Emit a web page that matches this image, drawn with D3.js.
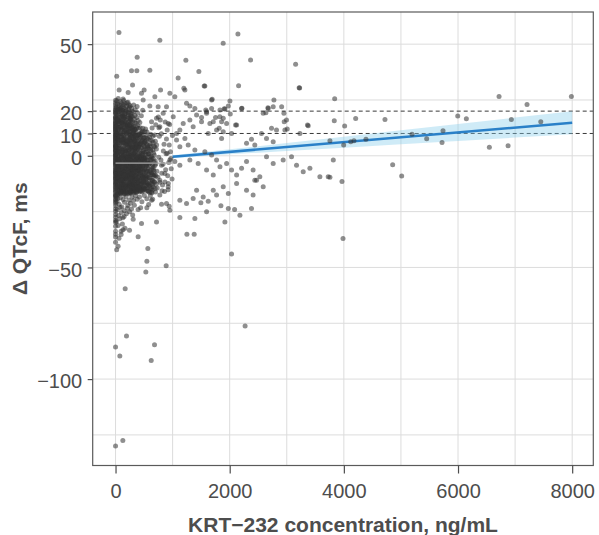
<!DOCTYPE html>
<html>
<head>
<meta charset="utf-8">
<script src="https://cdn.jsdelivr.net/npm/d3@7"></script>
<style>
  body { margin: 0; background: #fff; }
  svg { display: block; }
</style>
</head>
<body>
<svg id="chart" width="599" height="535"></svg>
<script>
// ---- axis setup -------------------------------------------------------
const xTicks = [0, 2000, 4000, 6000, 8000];
const xGrid = [0, 1000, 2000, 3000, 4000, 5000, 6000, 7000, 8000];
const yTicks = [-100, -50, 0, 10, 20, 50];
const yGrid = [-125, -100, -75, -50, -25, 0, 25, 50];
const refLevels = [10, 20];            // ms thresholds (dashed)

// ---- linear fit and its confidence band -------------------------------
const fitX = [1000, 8000];
const fitY = [-0.4, 14.8];
const ciX  = [1000, 2000, 3000, 4000, 5000, 6000, 7000, 8000];
const ciLo = [-1.05, 0.64, 2.17, 3.65, 5.19, 6.66, 8.15, 9.65];
const ciHi = [0.25, 2.90, 5.71, 8.57, 11.39, 14.26, 17.11, 19.95];

// mean change at low exposure (0 to 1000 ng/mL)
const lowMeanX = [0, 1000];
const lowMeanY = [-3.3, -3.3];

// ---- observations: ΔQTcF (ms) ----------------------------------------
// pre-dose samples, concentration 0 ng/mL
const predoseDQ = [
  -2.1, 4.6, -9.8, 12.3, 0.7, -14.2, 7.9, 17.6, -5.4, 2.8, -11.7, 9.1, 20.4, -17.3, -0.9,
  14.8, -7.6, 5.5, -3.8, 11.2, -15.9, 1.9, 18.9, -12.6, 6.7, -1.6, 15.7, -8.9, 3.4, -19.2,
  10.4, -4.7, 13.5, -13.1, 8.3, 21.8, -6.2, 0.1, 16.4, -10.5, 4.1, -16.4, 12.9, -2.9, 7.2,
  -18.1, 19.7, -7.1, 2.2, 9.8, -11.1, 14.1, -4.1, 6.1, -20.6, 17.1, -9.2, 1.3, 11.7, -14.8,
  5.1, -0.3, 22.9, -6.9, 8.8, -12.2, 3.9, 15.2, -3.3, 10.9, -17.8, 13.2, -8.1, 0.4, 19.1,
  -15.3, 6.4, -5.9, 16.9, -10.1, 2.5, 12.1, -1.2, 9.4, -13.7, 4.4, 20.9, -7.9, 7.6, -19.8,
  14.5, -2.5, -22.4, -24.8, -26.3, -28.9, -31.6, -33.8, -36.4, -38.7, -21.3, -23.7, -27.5,
  23.8, 24.9, -29.8, -35.1
];

// [concentration ng/mL, ΔQTcF ms], cycle 1, below 700 ng/mL
const obsLowC1 = [
  [18,-3.4],[42,6.8],[27,-12.1],[55,14.3],[33,1.2],[21,-8.7],[48,19.5],[37,-15.6],[25,10.1],[58,-5.9],
  [16,16.8],[44,-1.4],[30,8.2],[52,-10.8],[23,3.6],[39,-16.9],[57,12.0],[19,-6.3],[46,20.7],[34,-13.4],
  [28,5.0],[53,-0.2],[41,17.4],[15,-11.5],[49,9.3],[36,-4.5],[24,13.6],[59,-14.7],[31,2.4],[45,-7.8],
  [20,18.3],[54,-2.6],[38,11.1],[26,-9.9],[50,7.4],[43,-17.2],[17,0.9],[56,15.5],[32,-8.0],[47,4.3],
  [64,-1.8],[97,9.7],[112,-13.2],[78,15.2],[88,-6.6],[70,4.9],[105,-16.3],[118,12.4],[83,-9.4],[66,19.9],
  [101,0.3],[93,-11.9],[75,7.1],[115,17.8],[61,-4.2],[108,-7.4],[86,13.0],[72,-15.1],[99,3.3],[117,-2.9],
  [80,21.2],[63,10.6],[95,-12.7],[110,6.0],[77,-0.7],[90,16.1],[68,-8.6],[103,11.8],[84,-17.0],[119,1.6],
  [73,-5.0],[96,18.6],[62,-10.3],[107,8.5],[81,-3.1],[114,14.7],[91,-14.5],[69,2.0],[100,-9.0],[76,12.9],
  [111,-6.1],[87,5.6],[65,-13.9],[98,20.1],[116,-11.0],[79,9.0],[94,-1.0],[71,15.9],[104,-15.8],[85,-4.8],
  [113,3.9],[67,-7.0],
  [124,-2.3],[158,8.4],[187,-12.6],[141,16.7],[172,-5.5],[133,3.1],[196,13.2],[150,-15.9],[165,0.8],[128,-9.3],
  [182,19.0],[145,-7.1],[199,-0.9],[137,11.6],[170,-13.8],[155,5.9],[122,14.9],[190,-4.0],[162,-10.7],[131,7.7],
  [178,2.2],[147,-16.6],[193,9.9],[126,-6.4],[168,17.3],[139,-11.4],[185,-1.7],[153,12.8],[121,-14.2],[175,6.5],
  [143,-3.6],[197,-8.2],[160,15.0],[135,0.0],[181,-15.2],[149,4.4],[127,18.1],[166,-6.9],[192,10.8],[138,-12.0],
  [156,-2.0],[174,13.9],[123,-4.9],[188,-10.0],[144,9.1],[163,-17.0],[134,20.3],[179,-7.5],[152,1.5],[195,5.2],
  [130,-13.0],[171,-3.0],[146,14.4],[184,-16.0],[159,7.0],[125,-8.0],[191,16.2],[140,-1.1],[167,-9.6],[154,11.0],
  [198,-13.5],[132,6.2],[177,-0.4],[148,-14.9],[186,2.9],[129,12.2],[164,-5.2],[142,-10.2],[194,-6.0],[157,17.9],
  [204,-3.7],[238,7.3],[266,-11.8],[219,14.0],[251,-6.8],[229,2.6],[275,-15.4],[212,10.4],[244,-0.6],[259,16.6],
  [207,-9.1],[271,4.0],[233,-13.3],[248,12.1],[216,-2.5],[262,-7.9],[226,18.4],[279,0.5],[241,-16.2],[209,6.9],
  [255,-4.3],[236,9.6],[268,-12.9],[222,-0.1],[247,15.6],[214,-10.6],[273,11.3],[231,-5.8],[257,3.5],[202,13.8],
  [264,-14.0],[239,-8.4],[218,1.0],[277,-2.0],[245,8.0],[227,-15.0],[252,17.0],[210,-6.0],[269,6.3],[234,-11.0],
  [260,-1.3],[221,12.6],[276,-9.7],[243,4.7],[205,-13.6],[254,-3.2],[230,15.3],[265,9.2],[213,-16.8],[249,0.2],
  [272,-6.5],[225,5.4],[240,-10.1],[258,13.3],[217,-7.6],[278,-14.4],[235,10.9],[203,2.1],[263,-0.8],[246,-12.4],
  [228,7.8],[270,16.0],[211,-4.6],[253,-16.5],[237,1.7],[267,-9.0],[220,19.3],[250,5.7],[274,-5.0],[232,-2.7],
  [284,-4.1],[317,6.2],[342,-10.9],[296,12.7],[329,-1.5],[305,-14.3],[348,3.0],[289,9.0],[322,-7.7],[337,14.8],
  [300,-0.3],[313,-12.3],[345,-5.6],[292,1.9],[326,10.3],[308,-9.5],[340,-15.5],[283,-7.0],[320,4.6],[334,-3.3],
  [298,15.4],[311,-16.1],[346,8.1],[287,-11.6],[324,0.6],[303,-5.1],[338,11.9],[294,-13.0],[331,-8.8],[316,2.8],
  [349,-1.9],[281,13.5],[306,7.5],[343,-12.0],[291,-2.6],[327,-14.6],[310,10.0],[336,-6.2],[299,4.2],[319,-10.4],
  [286,-15.8],[347,5.1],[302,-8.3],[332,1.1],[314,13.0],[295,-6.9],[339,-0.9],[323,-13.7],[288,7.2],[309,-3.9],
  [344,9.5],[297,-9.9],[328,3.7],[282,0.2],[312,-4.4],[335,-11.3],[304,11.4],[321,-16.6],[341,6.8],[293,-12.8],
  [355,-3.2],[389,5.6],[412,-11.4],[368,8.7],[401,-6.0],[377,-14.1],[418,1.4],[359,-8.8],[395,-0.4],[383,-12.5],
  [407,3.9],[363,-5.3],[416,7.9],[372,-15.3],[398,-9.7],[386,0.9],[352,11.8],[410,-2.2],[375,-7.4],[392,-13.6],
  [366,2.7],[404,-4.7],[381,6.5],[357,-10.2],[414,-15.6],[370,-1.1],[396,9.3],[361,4.5],[408,-8.0],[379,-3.8],
  [353,-13.2],[390,-6.6],[419,-0.7],[374,12.7],[400,-12.0],[365,-16.0],[385,3.2],[411,5.0],[358,0.0],[393,-10.8],
  [424,-4.3],[461,6.2],[488,-10.7],[437,-13.9],[472,-1.8],[449,3.6],[495,-6.9],[429,8.9],[466,-15.0],[483,1.0],
  [441,-8.2],[499,-12.8],[455,-3.0],[431,-0.2],[477,-9.4],[446,10.4],[490,4.7],[422,-14.6],[468,-5.5],[458,-11.8],
  [435,2.3],[481,-2.7],[497,8.1],[444,-6.0],[470,0.5],[427,5.4],[486,-14.1],[452,-9.9],[475,7.0],[439,-4.9],
  [463,-16.2],[493,-0.9],[432,-11.2],[479,12.3],[448,-1.4],[465,-7.6],
  [506,-2.4],[541,5.3],[567,-9.8],[519,-13.5],[553,-0.6],[528,2.9],[574,-5.7],[512,8.2],[547,-12.0],[533,-7.3],
  [561,3.8],[503,-15.1],[578,0.9],[524,-3.9],[556,-14.4],[538,-4.6],[515,-8.9],[569,7.4],[545,-1.9],[509,4.1],
  [530,-10.6],[563,-7.0],[551,10.7],[521,-0.8],[575,-12.7],[536,6.7],[558,-3.3],[504,-6.5],[527,12.0],[572,-15.7],
  [543,-9.2],[516,1.6],
  [585,-3.6],[622,4.2],[648,-8.5],[601,-12.3],[637,-1.0],[611,7.1],[662,-5.2],[592,0.8],[629,-14.7],[655,2.6],
  [606,-6.8],[643,-10.9],[598,-16.4],[616,9.6],[671,-2.8],[634,-6.1],[588,-9.6],[659,6.0],[626,-0.2],[608,-3.1],
  [641,12.4],[679,-11.5],[595,4.6],[651,-13.0],[620,-8.4],[667,1.3],
  [12,21.5],[35,23.2],[58,22.0],[83,24.3],[104,21.9],[130,23.0],[152,22.6],[176,21.0],[201,23.8],[226,20.8],
  [255,22.4],[281,21.3],[312,19.6],[338,18.0],[371,17.2],[396,15.8],[22,24.6],[47,20.9],[71,22.8],[95,23.6],
  [119,20.5],[144,24.8],[169,19.8],[193,22.1],[218,24.0],[243,21.7],[268,19.0],[296,17.6],[327,16.4],[359,14.6],
  [388,19.2],[15,19.4],[40,15.4],[66,17.2],[91,21.0],[115,16.0],[139,21.4],[163,23.5],[188,20.2],[211,17.5],
  [236,22.9],[262,17.9],[289,20.0],[318,22.8],[345,20.6],[378,22.1],[402,12.3],[426,14.9],[452,17.9],[476,20.4],
  [10,-18.5],[25,-20.4],[40,-19.1],[62,-21.7],[85,-18.8],[110,-22.9],[133,-19.6],[158,-20.8],[184,-18.2],[207,-23.5],
  [232,-19.9],[260,-21.2],[288,-18.6],[315,-20.0],[349,-17.9],[380,-19.5],[420,-18.4],[462,-20.6],[505,-17.8],[548,-19.2],
  [30,-24.2],[55,-26.7],[80,-23.1],[102,-25.4],[128,-27.8],[155,-24.6],[190,-26.0],[215,-22.3],[245,-25.1],[280,-23.8],
  [330,-22.2],[395,-24.0],[440,-23.3],[15,-29.4],[45,-31.2],[75,-28.2],[120,-30.5],[165,-32.4],[98,-35.3],[150,-27.2],
  [60,-36.9],[20,-42.1],[130,-33.1],[300,-26.5],[580,-21.8],[610,-17.8],[650,-19.5],[700,-16.2]
];

// [concentration ng/mL, ΔQTcF ms], cycle 2, below 720 ng/mL
const obsLowC2 = [
  [127,1.8],[164,-7.9],[199,12.5],[142,-15.1],[181,5.0],[226,-3.0],[258,9.4],[290,-11.2],[135,14.2],[173,-0.7],
  [212,-12.9],[247,3.8],[279,17.6],[151,-5.6],[188,10.2],[233,-9.0],[266,-1.9],[298,6.3],[121,-10.5],[159,18.9],
  [204,-16.1],[241,13.7],[274,-6.8],[145,7.6],[183,-13.4],[219,0.9],[253,-14.8],[286,2.4],[131,-3.6],[168,11.4],
  [208,4.7],[244,-8.2],[271,15.0],[156,-11.8],[194,-2.8],[229,16.8],[262,-16.3],[295,-4.5],[138,5.9],[177,-14.0],
  [215,8.6],[251,-5.1],[283,-13.1],[124,9.9],[162,-1.4],[201,-8.8],[237,19.6],[269,3.1],[148,-17.2],[186,14.9],
  [222,-6.3],[256,11.0],[292,-9.6],[133,-12.7],[171,2.7],[210,13.1],[248,-0.2],[277,-15.7],[154,17.0],[191,-10.4],
  [230,5.6],[264,-11.5],[297,9.8],[140,0.3],[179,-4.2],[217,-14.3],[255,6.8],[288,12.2],[126,-7.2],[166,15.6],
  [205,-2.2],[239,-17.0],[273,-3.4],[150,10.6],[197,6.1],[235,-12.2],[260,1.4],[281,-8.1],[129,17.4],[175,-9.9],
  [304,-2.7],[337,8.9],[371,-13.6],[405,4.3],[438,-7.5],[472,11.0],[318,-9.1],[352,1.5],[386,-15.2],[421,-1.0],
  [455,6.6],[489,-12.1],[309,13.1],[343,-5.8],[377,7.7],[412,-10.0],[446,-3.6],[481,2.0],[324,-14.9],[358,10.8],
  [393,-4.0],[427,-12.9],[461,0.4],[495,-8.5],[314,5.2],[348,-11.0],[382,-0.9],[417,9.5],[451,-14.4],[486,-4.6],
  [329,-6.6],[363,-16.4],[398,2.9],[432,12.6],[466,-9.8],[500,5.8],[306,-12.4],[341,3.4],[375,-8.0],[409,-2.3],
  [443,8.4],[478,-15.6],[321,0.9],[355,-7.0],[389,13.6],[424,-6.1],[458,-1.7],[492,-11.5],[333,11.7],[367,-1.5],
  [401,-9.3],[435,-16.0],[469,4.0],[311,-4.8],[345,6.0],[380,-12.6],[414,0.0],[448,-13.0],[483,7.9],[327,-15.8],
  [361,3.7],[396,-6.4],[430,4.9],[464,-3.9],[498,-1.2],[316,8.0],[350,-13.9],[384,-5.2],[419,-14.2],[453,9.7],
  [503,-0.9],[531,-8.8],[559,4.6],[587,-13.2],[615,-2.1],[643,6.9],[671,-9.3],[511,-14.6],[539,1.7],[567,-5.4],
  [595,8.4],[623,-11.0],[651,-4.0],[679,0.4],[519,5.9],[547,-10.3],[575,-16.0],[603,-0.5],[631,-7.6],[659,-14.0],
  [687,4.0],[507,-6.0],[535,9.3],[563,-12.4],[591,-3.4],[619,2.2],[647,-15.3],[675,-6.9],[523,-2.6],[551,-15.8],
  [579,-8.0],[607,5.4],[635,-12.5],[663,-1.3],[515,10.8],[543,-4.4],[571,1.0],[599,-10.1],[627,-16.2],[655,9.0],
  [683,-11.8],[527,-11.6],[555,7.9],[583,3.2],[611,-14.6],[639,-5.0],[667,-8.6],[695,-2.4],[709,-9.1],[720,4.8],
  [22,-0.8],[51,11.6],[88,-14.0],[37,7.9],[74,-11.2],[109,18.8],[29,-17.6],[63,3.0],[97,-3.7],[45,-13.0],
  [82,14.5],[118,-9.0],[34,20.2],[68,-2.4],[103,6.8],[56,-6.4],[93,1.0],[26,13.0],[79,-16.4],[114,-0.5],
  [41,-10.2],[72,18.0],[106,-12.3],[59,8.8],[91,-8.3],[16,4.0],[48,-4.2],[85,10.0],[117,-14.9],[31,-5.0],
  [66,-15.6],[100,15.1],[53,1.9],[86,-10.7],[19,9.9],[111,2.5],[77,-1.6],[43,16.0],[96,-16.8],[61,6.0]
];

// [concentration ng/mL, ΔQTcF ms], cycle 3 onward, below 710 ng/mL
const obsLowC3 = [
  [36,-9.5],[71,3.4],[109,-15.0],[148,8.1],[186,-4.4],[224,11.9],[262,-10.3],[301,-0.4],[339,-14.7],[377,5.3],
  [415,-6.7],[453,-12.4],[491,2.6],[529,-3.8],[54,12.7],[92,-7.2],[131,-1.7],[169,-12.8],[207,6.4],[245,-15.5],
  [283,3.9],[321,-7.4],[359,9.0],[397,-11.6],[435,-2.1],[473,-8.9],[511,6.3],[549,-13.3],[27,-14.0],[63,-4.6],
  [101,13.1],[139,-8.6],[177,4.9],[215,-6.9],[253,14.1],[291,-13.4],[329,7.0],[367,-3.1],[405,-14.1],[443,5.6],
  [481,-5.9],[519,-9.7],[40,1.3],[78,-12.5],[116,7.3],[154,-14.4],[192,-0.1],[230,-11.7],[268,8.5],[306,-5.3],
  [344,1.8],[382,-16.1],[420,9.9],[458,-0.8],[496,-14.8],[534,0.6],[47,-1.9],[85,-16.2],[123,-5.2],[161,2.6],
  [199,-9.3],[237,-2.0],[275,-16.7],[313,11.1],[351,-9.0],[389,-1.8],[427,-8.2],[465,10.5],[503,-11.9],[541,-6.7],
  [58,6.7],[96,0.5],[134,-16.0],[172,-8.7],[210,-1.0],[248,-13.6],[286,-6.0],[324,-12.9],[362,-0.6],[400,7.0],
  [438,-15.4],[476,-4.2],[514,-1.5],[552,3.3],[33,16.3],[69,-7.9],[107,-10.9],[145,-4.5],[183,-16.5],[221,3.5],
  [259,-4.9],[297,-14.1],[335,-2.4],[373,-10.1],[411,-5.0],[449,1.1],[487,-10.0],[525,-15.0],[563,-2.0],[598,-7.5],
  [622,-1.5],[646,-11.3],[670,4.4],[694,-14.6],[614,2.8],[638,-16.5],[662,-6.2],[686,9.3],[590,-13.7],[705,-3.7]
];

// [concentration ng/mL, ΔQTcF ms] from 700 ng/mL upward, plus far outliers
const obsHigh = [
  [690,-4.4],[715,3.0],[742,-9.6],[768,8.8],[795,-1.9],[823,-13.1],[850,5.2],[878,-6.3],[905,11.5],[933,-3.0],
  [962,1.8],[990,-10.4],[705,13.9],[731,-14.4],[757,-0.6],[784,16.0],[810,-7.8],[838,2.2],[866,-11.7],[892,7.5],
  [921,-15.2],[948,14.0],[976,-5.8],[698,6.5],[724,-6.9],[750,17.4],[777,-11.9],[803,9.9],[831,-3.8],[858,-16.0],
  [886,0.9],[914,-8.9],[941,4.8],[969,-1.2],[997,9.1],[712,-12.6],[760,12.6],[815,-15.7],[870,15.1],[925,-12.4],
  [60,55.2],[776,51.7],[2144,54.6],[1886,50.4],[2366,42.9],[3155,41.0],[3225,30.4],[2156,31.4],[1553,31.3],[1460,37.7],
  [379,44.1],[1232,42.8],[1097,34.8],[21,35.6],[280,38.1],[373,38.1],[601,38.3],[298,31.7],[63,29.5],[501,29.5],
  [789,29.5],[952,28.0],[1039,26.5],[1215,29.5],[221,28.3],[455,28.0],[484,25.0],[689,26.5],[47,25.7],[133,25.4],
  [1197,30.2],[1565,31.3],[3217,30.5],
  [1683,25.0],[2004,24.5],[2775,25.0],[2910,22.0],[2670,21.5],[2634,19.3],[3839,25.6],[1916,21.0],[2214,21.3],[2010,18.7],
  [2103,13.8],[2955,15.2],[3008,12.0],[3376,13.5],[3832,15.7],[4014,13.4],[4207,16.7],[4720,16.3],
  [1507,17.2],[1582,20.5],[1595,19.7],[1693,25.3],[1752,17.2],[1828,17.5],[1858,15.2],[1904,21.1],[1887,16.8],[1653,14.5],
  [1816,12.3],
  [601,22.3],[747,22.0],[893,22.0],[1244,23.5],[1302,22.3],[1390,21.2],[1683,21.2],[1830,20.5],[1976,22.3],[2208,21.2],
  [2587,19.0],[2675,21.2],[2762,22.0],[2950,19.0],[3363,13.8],[3230,10.0],[2995,16.0],[2967,11.5],[2733,12.3],[2762,6.3],
  [2820,11.5],[2557,10.0],[2645,7.8],[2382,7.4],[2295,5.6],[2440,4.8],[1946,14.5],[1887,10.8],[2033,10.0],[2121,13.8],
  [1712,15.3],[1770,11.5],[1624,10.0],[1858,7.8],[1595,19.0],[1420,18.3],[1507,15.3],[1302,16.0],[1360,13.0],[1186,14.5],
  [1127,11.5],[1011,17.5],[923,14.5],[1069,10.0],[835,19.0],[718,16.8],[776,13.0],[631,15.3],
  [1039,-2.6],[1127,-4.2],[1302,-1.9],[1448,-3.4],[1565,1.8],[1683,0.4],[1770,-1.9],[1595,-6.4],[1712,-8.6],[1830,-4.9],
  [1946,-3.4],[2033,-6.4],[2121,-8.6],[2208,-5.6],[2295,-2.6],[2411,-6.4],[2528,-9.4],[2440,-10.9],[2645,-0.4],[2762,-3.4],
  [2937,-1.9],[3083,-0.4],[3171,-4.2],[3288,-7.2],[3405,-5.6],[3580,-9.4],[3726,-9.4],[2121,-12.4],[2295,-15.4],[2411,-17.6],
  [2587,-13.9],[2470,-10.9],[1887,-13.9],[1976,-16.9],[1770,-17.6],[1712,-15.4],[1420,-15.4],[1536,-18.4],[1360,-19.1],[1127,-19.9],
  [1244,-21.4],[1595,-25.1],[1390,-28.1],[1127,-27.6],[718,-29.6],[455,-30.3],[2179,-26.6],[1976,-23.6],[1916,-29.6],[2382,-23.6],
  [893,-21.4],[952,-24.4],[776,-17.6],[631,-19.9],[776,-10.9],[923,-13.9],[689,-8.6],[864,-7.9],[952,-1.9],[806,-4.2],
  [905,1.1],[1127,4.1],[1273,4.8],[1390,2.6],[1215,7.8],[1069,7.1],
  [0,-130.0],[128,-127.5],[0,-85.6],[75,-89.7],[192,-80.7],[683,-84.6],[625,-91.7],[169,-59.5],[531,-52.0],[549,-47.2],
  [566,-41.5],[887,-49.2],[2033,-44.0],[396,-36.3],[45,-40.5],[98,-33.8],[245,-33.3],[1250,-35.1],[1378,-35.1],[1846,-22.4],
  [2086,-24.0],[1495,-21.0],[1624,-20.3],[940,-22.6],[806,-21.7],[549,-23.3],[309,-28.4],[2270,-76.2],[3985,-37.0],
  [3756,6.7],[3997,4.8],[4120,6.3],[4177,6.7],[4387,7.4],[5194,9.7],[5451,7.6],[5737,11.2],[5720,6.0],[5995,17.8],
  [6146,16.6],[6549,3.8],[6719,26.6],[6877,4.5],[6934,16.3],[7209,23.0],[7450,15.2],[7986,26.6],[3815,-1.9],[3756,-9.6],
  [3967,-11.5],[4855,-4.0],[5013,-9.0]
];

// ---- drawing ----------------------------------------------------------
const W = 599, H = 535;
const margin = { left: 92.7, top: 12, right: 5.7, bottom: 69.5 };
const FONT = "'Liberation Sans', Arial, Helvetica, sans-serif";
const TEXT = "#4d4d4d";

const x = d3.scaleLinear().domain([-400, 8370]).range([margin.left, W - margin.right]);
const y = d3.scaleLinear().domain([-138.7, 64.4]).range([H - margin.bottom, margin.top]);

const svg = d3.select("#chart");
svg.append("rect").attr("width", W).attr("height", H).attr("fill", "#fff");

const clipId = "panel-clip";
svg.append("clipPath").attr("id", clipId).append("rect")
  .attr("x", margin.left).attr("y", margin.top)
  .attr("width", W - margin.right - margin.left)
  .attr("height", H - margin.bottom - margin.top);

const panel = svg.append("g").attr("clip-path", `url(#${clipId})`);

// grid
panel.append("g").selectAll("line").data(xGrid).join("line")
  .attr("x1", d => x(d)).attr("x2", d => x(d))
  .attr("y1", margin.top).attr("y2", H - margin.bottom)
  .attr("stroke", "#dcdcdc").attr("stroke-width", 1);
panel.append("g").selectAll("line").data(yGrid).join("line")
  .attr("x1", margin.left).attr("x2", W - margin.right)
  .attr("y1", d => y(d)).attr("y2", d => y(d))
  .attr("stroke", "#dcdcdc").attr("stroke-width", 1);

// threshold lines
panel.append("g").selectAll("line").data(refLevels).join("line")
  .attr("x1", margin.left).attr("x2", W - margin.right)
  .attr("y1", d => y(d)).attr("y2", d => y(d))
  .attr("stroke", "#3a3a3a").attr("stroke-width", 1)
  .attr("stroke-dasharray", "4,3");

// confidence band + fitted line
const band = ciX.map((cx, i) => ({ cx, lo: ciLo[i], hi: ciHi[i] }));
panel.append("path").datum(band)
  .attr("d", d3.area().x(d => x(d.cx)).y0(d => y(d.lo)).y1(d => y(d.hi)))
  .attr("fill", "#87ceeb").attr("fill-opacity", 0.4);
panel.append("path").datum(fitX.map((fx, i) => [fx, fitY[i]]))
  .attr("d", d3.line().x(d => x(d[0])).y(d => y(d[1])))
  .attr("fill", "none").attr("stroke", "#2a80c8").attr("stroke-width", 2.6);

// observations
const points = predoseDQ.map(v => [0, v]).concat(obsLowC1, obsLowC2, obsLowC3, obsHigh);
panel.append("g").selectAll("circle").data(points).join("circle")
  .attr("cx", d => x(d[0])).attr("cy", d => y(d[1])).attr("r", 2.5)
  .attr("fill", "#333333").attr("fill-opacity", 0.55);

// low-exposure mean
panel.append("path").datum(lowMeanX.map((lx, i) => [lx, lowMeanY[i]]))
  .attr("d", d3.line().x(d => x(d[0])).y(d => y(d[1])))
  .attr("fill", "none").attr("stroke", "#a8a8a8").attr("stroke-width", 1.2);

// panel border
svg.append("rect")
  .attr("x", margin.left).attr("y", margin.top)
  .attr("width", W - margin.right - margin.left)
  .attr("height", H - margin.bottom - margin.top)
  .attr("fill", "none").attr("stroke", "#5a5a5a").attr("stroke-width", 1.2);

// axes
const gx = svg.append("g").attr("transform", `translate(0,${H - margin.bottom})`)
  .call(d3.axisBottom(x).tickValues(xTicks).tickSize(8).tickPadding(10).tickFormat(d3.format("d")));
gx.select(".domain").remove();
gx.selectAll(".tick line").attr("stroke", "#4d4d4d").attr("stroke-width", 1.2);
gx.selectAll(".tick text").attr("font-family", FONT).attr("font-size", 20).attr("fill", TEXT);

const gy = svg.append("g").attr("transform", `translate(${margin.left},0)`)
  .call(d3.axisLeft(y).tickValues(yTicks).tickSize(5).tickPadding(5.5).tickFormat(d3.format("d")));
gy.select(".domain").remove();
gy.selectAll(".tick line").attr("stroke", "#4d4d4d").attr("stroke-width", 1.2);
gy.selectAll(".tick text").attr("font-family", FONT).attr("font-size", 20).attr("fill", TEXT)
  .attr("dy", "0.43em");

// axis titles
svg.append("text")
  .attr("x", (margin.left + W - margin.right) / 2).attr("y", 532)
  .attr("text-anchor", "middle")
  .attr("font-family", FONT).attr("font-size", 21).attr("font-weight", "bold").attr("fill", TEXT)
  .text("KRT\u2212232 concentration, ng/mL");

svg.append("text")
  .attr("transform", `translate(26.5,${(margin.top + H - margin.bottom) / 2}) rotate(-90)`)
  .attr("text-anchor", "middle")
  .attr("font-family", FONT).attr("font-size", 21).attr("font-weight", "bold").attr("fill", TEXT)
  .text("\u0394 QTcF, ms");
</script>
</body>
</html>
